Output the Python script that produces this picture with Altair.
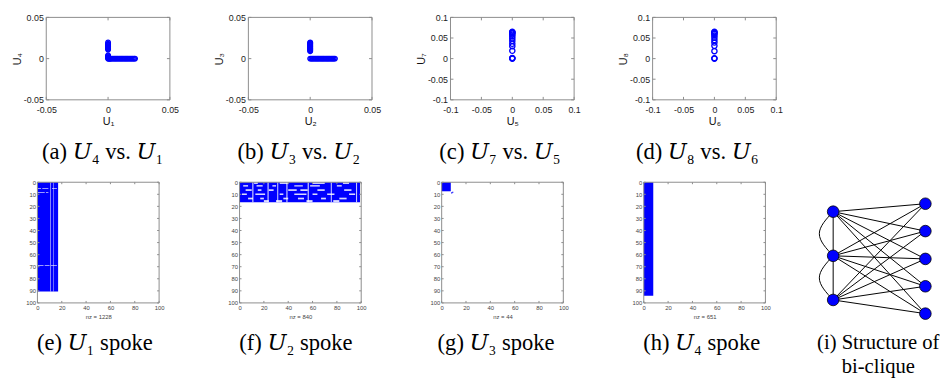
import altair as alt
import pandas as pd

# ---------------- data ----------------
# (a) U4 vs U1
a_u1 = [0.0, 0.0005, 0.001, 0.0015, 0.002, 0.003, 0.004, 0.005, 0.006, 0.007, 0.008, 0.009,
        0.010, 0.011, 0.012, 0.013, 0.014, 0.015, 0.016, 0.017, 0.018, 0.019, 0.020, 0.021, 0.0218,
        0.0, 0.0, 0.0, 0.0, 0.0, 0.0, 0.0, 0.0, 0.0, 0.0, 0.0, 0.0, 0.0]
a_u4 = [0.0, 0.0, 0.0, 0.0, 0.0, 0.0, 0.0, 0.0, 0.0, 0.0, 0.0, 0.0,
        0.0, 0.0, 0.0, 0.0, 0.0, 0.0, 0.0, 0.0, 0.0, 0.0, 0.0, 0.0, 0.0,
        0.001, 0.002, 0.003, 0.004, 0.011, 0.012, 0.013, 0.014, 0.015, 0.016, 0.017, 0.018, 0.0196]
# (b) U3 vs U2
b_u2 = [0.0, 0.001, 0.002, 0.003, 0.004, 0.005, 0.006, 0.007, 0.008, 0.009, 0.010, 0.011,
        0.012, 0.013, 0.014, 0.015, 0.016, 0.017, 0.018, 0.019, 0.020,
        0.0, 0.0, 0.0, 0.0, 0.0, 0.0, 0.0, 0.0, 0.0, 0.0, 0.0, 0.0]
b_u3 = [0.0, 0.0, 0.0, 0.0, 0.0, 0.0, 0.0, 0.0, 0.0, 0.0, 0.0, 0.0,
        0.0, 0.0, 0.0, 0.0, 0.0, 0.0, 0.0, 0.0, 0.0,
        0.009, 0.010, 0.011, 0.012, 0.013, 0.014, 0.015, 0.016, 0.017, 0.018, 0.019, 0.0196]
# (c) U7 vs U5
c_u5 = [0.0, 0.0, 0.0, 0.0, 0.0, 0.0, 0.0, 0.0, 0.0, 0.0, 0.0, 0.0, 0.0, 0.0]
c_u7 = [0.0, 0.0008, 0.0015, 0.019, 0.030, 0.036, 0.043, 0.049, 0.054, 0.058, 0.061, 0.063, 0.064, 0.065]
# (d) U8 vs U6
d_u6 = [0.0, 0.0, 0.0, 0.0, 0.0, 0.0, 0.0, 0.0, 0.0, 0.0, 0.0, 0.0]
d_u8 = [0.0, 0.001, 0.018, 0.031, 0.039, 0.045, 0.051, 0.056, 0.060, 0.062, 0.064, 0.065]

top_ticks_small = [-0.05, 0, 0.05]
top_ticks_large = [-0.1, -0.05, 0, 0.05, 0.1]

# spy plots: blocks of non-zeros (col0, col1, row0, row1) and empty gaps inside them
e_blocks = [(0, 17, 0, 90.5)]
e_gaps = [(10.4, 10.9, 0, 90.5), (13.0, 13.4, 0, 90.5),
          (0, 3, 5.0, 5.6), (4, 9, 5.0, 5.6), (12, 16, 5.0, 5.6),
          (0, 6, 8.2, 8.8), (7, 9, 8.2, 8.8),
          (0, 5, 68.6, 69.2), (6, 10, 68.6, 69.2), (11, 16, 68.6, 69.2)]
f_blocks = [(0, 99, 0, 16.5)]
f_gaps = [(12, 15, 0, 1.4), (33, 40, 0, 1.4), (60, 70, 0, 1.4), (85, 90, 0, 1.4),
          (3, 7, 2.4, 3.6), (14, 19, 2.4, 3.6), (27, 30, 2.4, 3.6), (45, 52, 2.4, 3.6), (58, 66, 2.4, 3.6), (80, 84, 2.4, 3.6),
          (5, 10, 5.8, 7.2), (15, 18, 5.8, 7.2), (24, 28, 5.8, 7.2), (40, 47, 5.8, 7.2), (50, 56, 5.8, 7.2), (64, 70, 5.8, 7.2), (86, 92, 5.8, 7.2),
          (2, 6, 9.3, 10.6), (13, 21, 9.3, 10.6), (33, 36, 9.3, 10.6), (45, 55, 9.3, 10.6), (60, 64, 9.3, 10.6), (72, 78, 9.3, 10.6), (90, 95, 9.3, 10.6),
          (7, 11, 12.8, 14.2), (17, 20, 12.8, 14.2), (36, 40, 12.8, 14.2), (48, 53, 12.8, 14.2), (67, 71, 12.8, 14.2), (82, 88, 12.8, 14.2),
          (10.5, 11.4, 0, 16.5), (23, 23.9, 0, 16.5), (31, 31.8, 0, 16.5), (38.5, 39.4, 0, 16.5), (56, 56.9, 0, 16.5), (75, 75.8, 0, 16.5), (95.8, 96.6, 0, 16.5),
          (20, 24, 14.8, 16.5), (30, 35, 14.8, 16.5), (55, 60, 14.8, 16.5), (77, 82, 14.8, 16.5)]
g_blocks = [(0, 7.5, 0, 7.5), (7.8, 8.8, 8.4, 9.4), (8.6, 9.6, 7.8, 8.8)]
g_gaps = []
h_blocks = [(0, 7.8, 0, 94)]
h_gaps = []
spy_nz = ["nz = 1228", "nz = 840", "nz = 44", "nz = 651"]
spy_xticks = [0, 20, 40, 60, 80, 100]
spy_yticks = [0, 10, 20, 30, 40, 50, 60, 70, 80, 90, 100]

# bi-clique graph
node_x = [0, 0, 0, 1, 1, 1, 1, 1]
node_y = [0, 1, 2, -0.18, 0.44, 1.07, 1.69, 2.31]
edges = [(0, 3), (0, 4), (0, 5), (0, 6), (0, 7),
         (1, 3), (1, 4), (1, 5), (1, 6), (1, 7),
         (2, 3), (2, 4), (2, 5), (2, 6), (2, 7),
         (0, 2)]
arc_x = [[0, -0.15, 0], [0, -0.15, 0]]
arc_y = [[0, 0.5, 1], [1, 1.5, 2]]

captions_top = ["(a) 𝑈₄ vs. 𝑈₁", "(b) 𝑈₃ vs. 𝑈₂", "(c) 𝑈₇ vs. 𝑈₅", "(d) 𝑈₈ vs. 𝑈₆"]
captions_bot = ["(e) 𝑈₁ spoke", "(f) 𝑈₂ spoke", "(g) 𝑈₃ spoke", "(h) 𝑈₄ spoke"]
caption_graph = ["(i) Structure of", "bi-clique"]

# ---------------- style ----------------
BLUE = "#0000ff"
FRAME = "#8c8c8c"
SANS = "Liberation Sans"
SERIF = "Liberation Serif, DejaVu Serif"
OFF = 9          # top panels sit 9px right of their column start
TW, TH = 126, 84  # top plot size
SW, SH = 124, 123  # spy plot size


def caption(text, dx, offset, size):
    return alt.TitleParams(text=text, orient="bottom", frame="group", anchor="middle",
                           font=SERIF, fontSize=size, fontWeight="normal", color="black",
                           dx=dx, offset=offset, lineHeight=24)


def top_panel(xs, ys, lim, ticks, xt, yt, cap, dx, size):
    df = pd.DataFrame({"x": xs, "y": ys})
    xsc = alt.Scale(domain=[-lim, lim], range=[OFF, OFF + TW], nice=False, zero=False)
    ysc = alt.Scale(domain=[-lim, lim], nice=False, zero=False)
    axis_common = dict(values=ticks, ticks=False, domain=False, grid=False, labelFlush=False,
                       labelOverlap=False, labelFont=SANS, labelFontSize=9, labelColor="#222",
                       labelExpr="'' + datum.value",
                       titleFont=SANS, titleFontSize=11, titleFontWeight="normal", titleColor="#111")
    xax = alt.Axis(title=xt, labelPadding=6, titlePadding=1, **axis_common)
    yax = alt.Axis(title=yt, labelPadding=3, titlePadding=1, offset=-OFF, **axis_common)
    frame_df = pd.DataFrame({"x0": [-lim], "x1": [lim], "y0": [-lim], "y1": [lim]})
    frame = alt.Chart(frame_df).mark_rect(fill=None, stroke=FRAME, strokeWidth=1).encode(
        x=alt.X("x0:Q", scale=xsc, axis=xax), x2="x1",
        y=alt.Y("y0:Q", scale=ysc, axis=yax), y2="y1")
    tdf = pd.DataFrame({"t": ticks})
    tb = alt.Chart(tdf).mark_rule(color=FRAME).encode(
        x=alt.X("t:Q", scale=xsc, axis=xax), y=alt.value(TH), y2=alt.value(TH - 3))
    tt = alt.Chart(tdf).mark_rule(color=FRAME).encode(
        x=alt.X("t:Q", scale=xsc, axis=xax), y=alt.value(0), y2=alt.value(3))
    tl = alt.Chart(tdf).mark_rule(color=FRAME).encode(
        y=alt.Y("t:Q", scale=ysc, axis=yax), x=alt.value(OFF), x2=alt.value(OFF + 3))
    tr = alt.Chart(tdf).mark_rule(color=FRAME).encode(
        y=alt.Y("t:Q", scale=ysc, axis=yax), x=alt.value(OFF + TW), x2=alt.value(OFF + TW - 3))
    pts = alt.Chart(df).mark_point(shape="circle", filled=False, color=BLUE, size=size,
                                   strokeWidth=1.4, opacity=1).encode(
        x=alt.X("x:Q", scale=xsc, axis=xax), y=alt.Y("y:Q", scale=ysc, axis=yax))
    return alt.layer(frame, tb, tt, tl, tr, pts).properties(
        width=OFF + TW, height=TH, title=caption(cap, dx, 15, 23))


def rect_df(blocks):
    return pd.DataFrame({"x0": [b[0] for b in blocks], "x1": [b[1] for b in blocks],
                         "y0": [b[2] for b in blocks], "y1": [b[3] for b in blocks]})


def spy_panel(blocks, gaps, nz, cap, dx):
    xsc = alt.Scale(domain=[0, 100], nice=False, zero=False)
    ysc = alt.Scale(domain=[0, 100], nice=False, zero=False, reverse=True)
    axis_common = dict(ticks=False, domain=False, grid=False, labelFlush=False, labelOverlap=False,
                       labelFont=SANS, labelFontSize=6, labelColor="#444",
                       titleFont=SANS, titleFontSize=6, titleFontWeight="normal", titleColor="#444")
    xax = alt.Axis(values=spy_xticks, title=nz, labelPadding=2, titlePadding=3, **axis_common)
    yax = alt.Axis(values=spy_yticks, title=None, labelPadding=2, **axis_common)
    frame = alt.Chart(rect_df([(0, 100, 0, 100)])).mark_rect(fill=None, stroke=FRAME, strokeWidth=1).encode(
        x=alt.X("x0:Q", scale=xsc, axis=xax), x2="x1",
        y=alt.Y("y0:Q", scale=ysc, axis=yax), y2="y1")
    layers = [alt.Chart(rect_df(blocks)).mark_rect(color=BLUE, stroke=None).encode(
        x=alt.X("x0:Q", scale=xsc, axis=xax), x2="x1",
        y=alt.Y("y0:Q", scale=ysc, axis=yax), y2="y1")]
    if gaps:
        layers.append(alt.Chart(rect_df(gaps)).mark_rect(color="white", opacity=0.85, stroke=None).encode(
            x=alt.X("x0:Q", scale=xsc, axis=xax), x2="x1",
            y=alt.Y("y0:Q", scale=ysc, axis=yax), y2="y1"))
    xt = pd.DataFrame({"t": spy_xticks})
    yt = pd.DataFrame({"t": spy_yticks})
    ticks = [
        alt.Chart(xt).mark_rule(color=FRAME).encode(x=alt.X("t:Q", scale=xsc, axis=xax),
                                                    y=alt.value(SH), y2=alt.value(SH - 2)),
        alt.Chart(xt).mark_rule(color=FRAME).encode(x=alt.X("t:Q", scale=xsc, axis=xax),
                                                    y=alt.value(0), y2=alt.value(2)),
        alt.Chart(yt).mark_rule(color=FRAME).encode(y=alt.Y("t:Q", scale=ysc, axis=yax),
                                                    x=alt.value(0), x2=alt.value(2)),
        alt.Chart(yt).mark_rule(color=FRAME).encode(y=alt.Y("t:Q", scale=ysc, axis=yax),
                                                    x=alt.value(SW), x2=alt.value(SW - 2)),
    ]
    return alt.layer(*layers, frame, *ticks).properties(width=SW, height=SH, title=caption(cap, dx, 13, 23))


# ---------------- panels ----------------
pa = top_panel(a_u1, a_u4, 0.05, top_ticks_small, "U₁", "U₄", captions_top[0], -1, 22)
pb = top_panel(b_u2, b_u3, 0.05, top_ticks_small, "U₂", "U₃", captions_top[1], -7, 22)
pc = top_panel(c_u5, c_u7, 0.1, top_ticks_large, "U₅", "U₇", captions_top[2], -8, 28)
pd_ = top_panel(d_u6, d_u8, 0.1, top_ticks_large, "U₆", "U₈", captions_top[3], -13, 28)

blank = alt.Chart(pd.DataFrame({"v": [0]})).mark_text(text="", opacity=0).encode(
    x=alt.value(0), y=alt.value(0)).properties(width=100, height=TH)

pe = spy_panel(e_blocks, e_gaps, spy_nz[0], captions_bot[0], -3.5)
pf = spy_panel(f_blocks, f_gaps, spy_nz[1], captions_bot[1], -4.5)
pg = spy_panel(g_blocks, g_gaps, spy_nz[2], captions_bot[2], -6.5)
ph = spy_panel(h_blocks, h_gaps, spy_nz[3], captions_bot[3], -3)

# graph
gx = alt.Scale(domain=[0.138, 1.202], nice=False, zero=False)
gy = alt.Scale(domain=[-0.667, 2.067], nice=False, zero=False, reverse=True)
nodes_df = pd.DataFrame({"x": node_x, "y": node_y})
edge_rows = []
for k, (s, t) in enumerate(edges):
    edge_rows.append({"e": k, "o": 0, "x": node_x[s], "y": node_y[s]})
    edge_rows.append({"e": k, "o": 1, "x": node_x[t], "y": node_y[t]})
edges_df = pd.DataFrame(edge_rows)
arc_rows = []
for k in range(len(arc_x)):
    for o in range(len(arc_x[k])):
        arc_rows.append({"e": k, "o": o, "x": arc_x[k][o], "y": arc_y[k][o]})
arcs_df = pd.DataFrame(arc_rows)

g_edges = alt.Chart(edges_df).mark_line(color="black", strokeWidth=1).encode(
    x=alt.X("x:Q", scale=gx, axis=None), y=alt.Y("y:Q", scale=gy, axis=None),
    detail="e:N", order="o:Q")
g_arcs = alt.Chart(arcs_df).mark_line(color="black", strokeWidth=1, interpolate="natural").encode(
    x=alt.X("x:Q", scale=gx, axis=None), y=alt.Y("y:Q", scale=gy, axis=None),
    detail="e:N", order="o:Q")
g_nodes = alt.Chart(nodes_df).mark_point(shape="circle", filled=True, color=BLUE, size=140,
                                         stroke="black", strokeWidth=0.8, opacity=1).encode(
    x=alt.X("x:Q", scale=gx, axis=None), y=alt.Y("y:Q", scale=gy, axis=None))
pi = alt.layer(g_edges, g_arcs, g_nodes).properties(
    width=100, height=SH, title=caption(caption_graph, -17, 12, 21))

chart = alt.concat(pa, pb, pc, pd_, blank, pe, pf, pg, ph, pi, columns=5,
                   spacing={"row": 84, "column": 71}, bounds="flush", align="each").properties(
    padding={"left": 3, "top": 0, "right": 0, "bottom": 0}, background="white"
).configure_view(stroke=None)

chart.save("out.html", embed_options={"renderer": "svg", "actions": False})
